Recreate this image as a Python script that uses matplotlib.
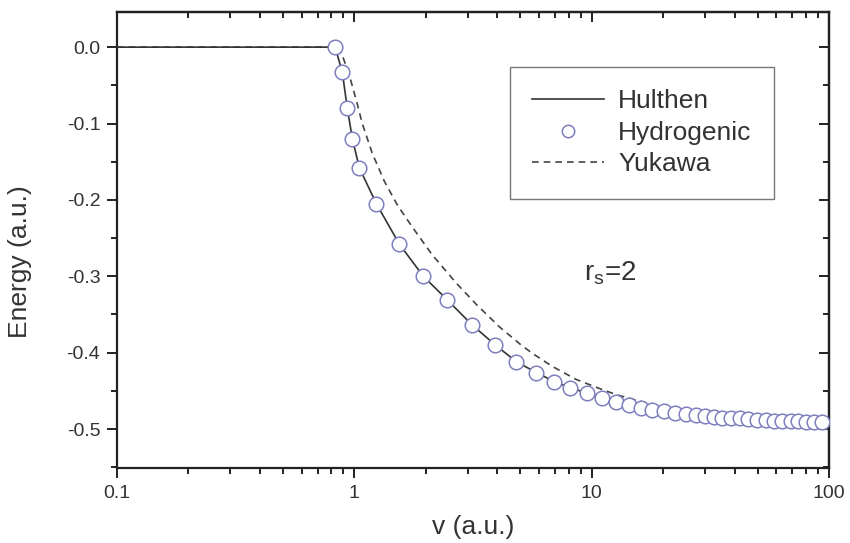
import matplotlib
matplotlib.use("Agg")
import matplotlib.pyplot as plt
from matplotlib.ticker import LogLocator, MultipleLocator, FixedLocator, FixedFormatter, NullFormatter

plt.rcParams['font.family'] = ['Liberation Sans', 'DejaVu Sans']

# Hydrogenic (circles)
hyd_v = [0.832, 0.890, 0.934, 0.981, 1.050, 1.238, 1.548, 1.953, 2.466, 3.142,
         3.93, 4.82, 5.85, 6.96, 8.13, 9.59, 11.1, 12.7, 14.42, 16.20,
         18.03, 20.25, 22.53, 25.07, 27.62, 30.15, 32.89, 35.54, 38.80, 42.33,
         45.76, 49.92, 54.47, 58.88, 63.63, 69.43, 74.32, 80.30, 86.81, 93.80]
hyd_E = [0.0, -0.033, -0.080, -0.120, -0.158, -0.205, -0.258, -0.300, -0.331, -0.364,
         -0.390, -0.412, -0.426, -0.438, -0.446, -0.453, -0.459, -0.465, -0.469, -0.472,
         -0.475, -0.477, -0.479, -0.480, -0.482, -0.483, -0.484, -0.485, -0.486, -0.486,
         -0.487, -0.488, -0.488, -0.489, -0.489, -0.490, -0.490, -0.491, -0.491, -0.491]

# Hulthen (solid line)
hul_v = [0.1, 0.83, 0.890, 0.934, 0.981, 1.050, 1.238, 1.548, 1.953, 2.466, 3.142,
         3.93, 4.82, 5.85, 6.96, 8.13, 9.59, 11.1, 12.7, 14.42, 18.03, 22.53,
         27.62, 35.54, 45.76, 58.88, 74.32, 100.0]
hul_E = [0.0, 0.0, -0.033, -0.080, -0.120, -0.158, -0.205, -0.258, -0.300, -0.331, -0.364,
         -0.390, -0.412, -0.426, -0.438, -0.446, -0.453, -0.459, -0.465, -0.469, -0.475, -0.479,
         -0.482, -0.485, -0.487, -0.489, -0.490, -0.492]

# Yukawa (dashed line)
yuk_v = [0.1, 0.865, 0.90, 0.953, 1.02, 1.08, 1.19, 1.34, 1.52, 1.75, 2.13, 2.69, 3.27,
         4.08, 5.0, 5.63, 6.83, 8.6, 10.8, 12.7, 17.5, 28.5, 46.0, 75.0, 100.0]
yuk_E = [0.0, 0.0, -0.015, -0.037, -0.070, -0.100, -0.139, -0.176, -0.207, -0.235, -0.272,
         -0.309, -0.337, -0.366, -0.389, -0.401, -0.418, -0.435, -0.447, -0.455, -0.467,
         -0.479, -0.486, -0.490, -0.491]

x_ticks = [0.1, 1, 10, 100]
x_ticklabels = ['0.1', '1', '10', '100']
y_ticks = [0.0, -0.1, -0.2, -0.3, -0.4, -0.5]
y_ticklabels = ['0.0', '-0.1', '-0.2', '-0.3', '-0.4', '-0.5']

fig = plt.figure(figsize=(8.5, 5.43), dpi=100)
ax = fig.add_axes([117/850, 1-468/543, (829-117)/850, (468-12)/543])

ax.plot(hul_v, hul_E, color='#333333', lw=1.2, label='Hulthen', zorder=3)
ax.plot(hyd_v, hyd_E, linestyle='none', marker='o', ms=10.5, mfc='white',
        mec='#7f7fc0', mew=1.1, label='Hydrogenic', zorder=4)
ax.plot(yuk_v, yuk_E, color='#444444', lw=1.2, linestyle=(0, (4, 3)), label='Yukawa', zorder=2)

ax.set_xscale('log')
ax.set_xlim(0.1, 100)
ax.set_ylim(-0.551, 0.046)

ax.xaxis.set_major_locator(FixedLocator(x_ticks))
ax.xaxis.set_major_formatter(FixedFormatter(x_ticklabels))
ax.xaxis.set_minor_locator(LogLocator(base=10, subs=range(2, 10)))
ax.xaxis.set_minor_formatter(NullFormatter())
ax.yaxis.set_major_locator(FixedLocator(y_ticks))
ax.yaxis.set_major_formatter(FixedFormatter(y_ticklabels))
ax.yaxis.set_minor_locator(MultipleLocator(0.05))

for s in ax.spines.values():
    s.set_linewidth(1.6)
    s.set_color('#222222')

ax.tick_params(which='both', direction='out', top=False, right=False, width=1.4, color='#222222')
ax.tick_params(which='major', length=7, labelsize=14, pad=5, labelcolor='#333333')
ax.tick_params(which='minor', length=4)

# mirrored ticks on top/right pointing inward
axt = ax.secondary_xaxis('top')
axt.xaxis.set_major_locator(FixedLocator(x_ticks))
axt.xaxis.set_minor_locator(LogLocator(base=10, subs=range(2, 10)))
axt.tick_params(which='both', direction='in', labeltop=False, width=1.4, color='#222222')
axt.tick_params(which='major', length=7)
axt.tick_params(which='minor', length=4)
axt.xaxis.set_major_formatter(NullFormatter())
axt.xaxis.set_minor_formatter(NullFormatter())
axt.spines['top'].set_linewidth(1.6)
axr = ax.secondary_yaxis('right')
axr.yaxis.set_major_locator(FixedLocator(y_ticks))
axr.yaxis.set_minor_locator(MultipleLocator(0.05))
axr.tick_params(which='both', direction='in', labelright=False, width=1.4, color='#222222')
axr.tick_params(which='major', length=7)
axr.tick_params(which='minor', length=4)
axr.yaxis.set_major_formatter(NullFormatter())
axr.spines['right'].set_linewidth(1.6)

ax.set_xlabel('v (a.u.)', fontsize=19, color='#333333')
ax.xaxis.set_label_coords(0.5, (468-527)/456, transform=ax.transAxes)
ax.xaxis.label.set_va('center')
ax.set_ylabel('Energy (a.u.)', fontsize=19, color='#333333')
ax.yaxis.set_label_coords((20-117)/712, (468-262)/456, transform=ax.transAxes)
ax.yaxis.label.set_va('center')

leg = ax.legend(loc='upper left', bbox_to_anchor=((510-117)/712, (468-67)/456),
                fontsize=19, frameon=True, fancybox=False, edgecolor='#555555',
                handlelength=2.7, handletextpad=0.55, borderpad=0.85, labelspacing=0.28,
                borderaxespad=0, markerscale=0.85)
leg.get_frame().set_linewidth(1.0)
for t in leg.get_texts():
    t.set_color('#333333')

ax.text(9.3, -0.305, r'r$_\mathregular{s}$=2', fontsize=20, color='#333333')

fig.savefig('out.png', dpi=100, facecolor='white')
